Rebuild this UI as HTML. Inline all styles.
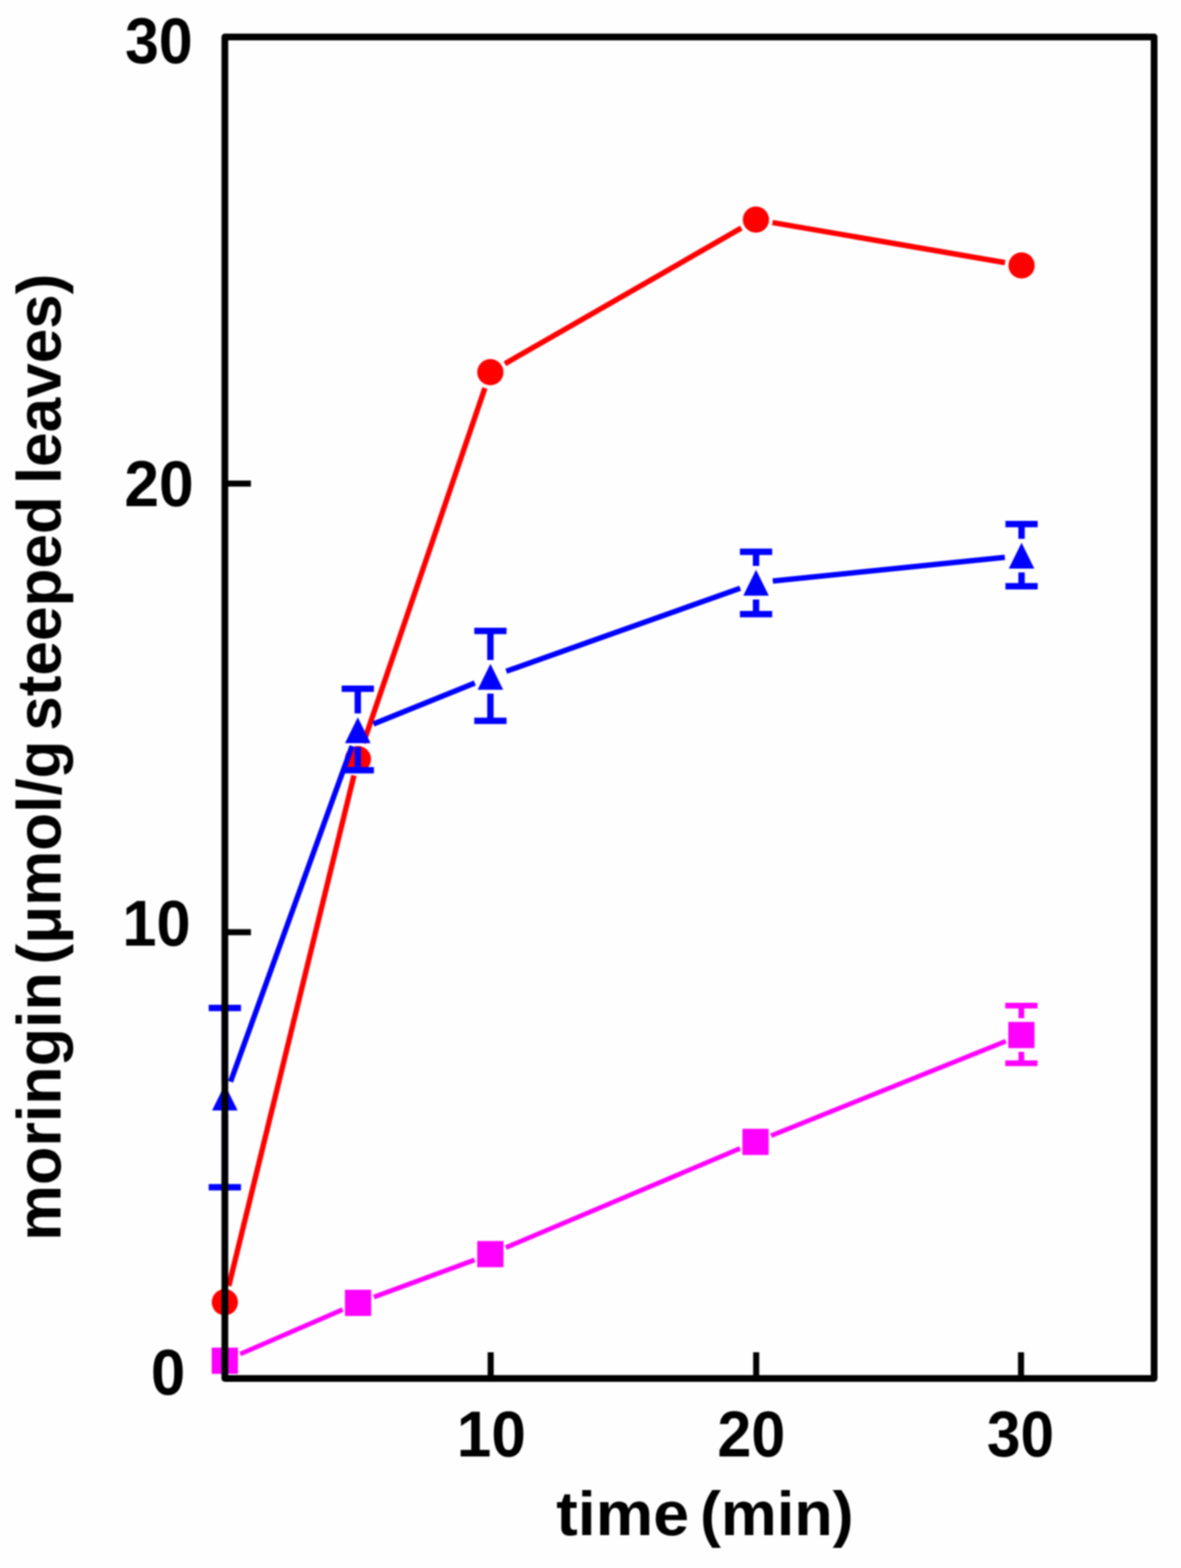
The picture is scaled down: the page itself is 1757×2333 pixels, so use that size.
<!DOCTYPE html><html><head><meta charset="utf-8"><title>moringin vs time</title><style>html,body{margin:0;padding:0;background:#fefefe;}svg{display:block;filter:blur(0.8px);}text{font-family:"Liberation Sans",Arial,Helvetica,sans-serif;font-weight:bold;fill:#000;}</style></head><body>
<svg width="1757" height="2333" viewBox="0 0 1757 2333">
<rect x="0" y="0" width="1757" height="2333" fill="#fefefe"/>
<g>
<line x1="340.4" y1="1913.3" x2="526.6" y2="1153.8" stroke="#ff0000" stroke-width="8" stroke-linecap="butt"/>
<line x1="540.6" y1="1105.8" x2="721.4" y2="577.4" stroke="#ff0000" stroke-width="8" stroke-linecap="butt"/>
<line x1="751.2" y1="541.2" x2="1102.9" y2="339.3" stroke="#ff0000" stroke-width="8" stroke-linecap="butt"/>
<line x1="1149.2" y1="331.1" x2="1495.2" y2="390.7" stroke="#ff0000" stroke-width="8" stroke-linecap="butt"/>
<circle cx="334.5" cy="1937.6" r="19.5" fill="#ff0000" />
<circle cx="532.5" cy="1129.5" r="19.5" fill="#ff0000" />
<circle cx="729.5" cy="553.7" r="19.5" fill="#ff0000" />
<circle cx="1124.6" cy="326.8" r="19.5" fill="#ff0000" />
<circle cx="1519.8" cy="395" r="19.5" fill="#ff0000" />
</g>
<g>
<line x1="343" y1="1609.5" x2="523.8" y2="1110" stroke="#0000ff" stroke-width="8" stroke-linecap="butt"/>
<line x1="555.5" y1="1077.2" x2="706.4" y2="1016.3" stroke="#0000ff" stroke-width="8" stroke-linecap="butt"/>
<line x1="753.2" y1="998.7" x2="1101.2" y2="875.3" stroke="#0000ff" stroke-width="8" stroke-linecap="butt"/>
<line x1="1149.7" y1="864.5" x2="1494.9" y2="829.2" stroke="#0000ff" stroke-width="8" stroke-linecap="butt"/>
<line x1="334.5" y1="1499.7" x2="334.5" y2="1608" stroke="#0000ff" stroke-width="9.5"/><line x1="334.5" y1="1658" x2="334.5" y2="1766.5" stroke="#0000ff" stroke-width="9.5"/><line x1="310.5" y1="1499.7" x2="358.5" y2="1499.7" stroke="#0000ff" stroke-width="9.5"/><line x1="310.5" y1="1766.5" x2="358.5" y2="1766.5" stroke="#0000ff" stroke-width="9.5"/>
<line x1="532.3" y1="1024.7" x2="532.3" y2="1061.5" stroke="#0000ff" stroke-width="9.5"/><line x1="532.3" y1="1111.5" x2="532.3" y2="1146" stroke="#0000ff" stroke-width="9.5"/><line x1="508.3" y1="1024.7" x2="556.3" y2="1024.7" stroke="#0000ff" stroke-width="9.5"/><line x1="508.3" y1="1146" x2="556.3" y2="1146" stroke="#0000ff" stroke-width="9.5"/>
<line x1="729.6" y1="938.7" x2="729.6" y2="982" stroke="#0000ff" stroke-width="9.5"/><line x1="729.6" y1="1032" x2="729.6" y2="1072.5" stroke="#0000ff" stroke-width="9.5"/><line x1="705.6" y1="938.7" x2="753.6" y2="938.7" stroke="#0000ff" stroke-width="9.5"/><line x1="705.6" y1="1072.5" x2="753.6" y2="1072.5" stroke="#0000ff" stroke-width="9.5"/>
<line x1="1124.8" y1="821" x2="1124.8" y2="842" stroke="#0000ff" stroke-width="9.5"/><line x1="1124.8" y1="892" x2="1124.8" y2="913.7" stroke="#0000ff" stroke-width="9.5"/><line x1="1100.8" y1="821" x2="1148.8" y2="821" stroke="#0000ff" stroke-width="9.5"/><line x1="1100.8" y1="913.7" x2="1148.8" y2="913.7" stroke="#0000ff" stroke-width="9.5"/>
<line x1="1519.8" y1="779.8" x2="1519.8" y2="801.7" stroke="#0000ff" stroke-width="9.5"/><line x1="1519.8" y1="851.7" x2="1519.8" y2="872.2" stroke="#0000ff" stroke-width="9.5"/><line x1="1495.8" y1="779.8" x2="1543.8" y2="779.8" stroke="#0000ff" stroke-width="9.5"/><line x1="1495.8" y1="872.2" x2="1543.8" y2="872.2" stroke="#0000ff" stroke-width="9.5"/>
<polygon points="334.5,1613.8 353.5,1652.2 315.5,1652.2" fill="#0000ff" />
<polygon points="532.3,1067.2 551.3,1105.8 513.3,1105.8" fill="#0000ff" />
<polygon points="729.6,987.8 748.6,1026.2 710.6,1026.2" fill="#0000ff" />
<polygon points="1124.8,847.8 1143.8,886.2 1105.8,886.2" fill="#0000ff" />
<polygon points="1519.8,807.5 1538.8,846 1500.8,846" fill="#0000ff" />
</g>
<g>
<line x1="357.4" y1="2014.6" x2="509.8" y2="1948.5" stroke="#ff00ff" stroke-width="7" stroke-linecap="butt"/>
<line x1="556.2" y1="1929.9" x2="706" y2="1874.6" stroke="#ff00ff" stroke-width="7" stroke-linecap="butt"/>
<line x1="752.5" y1="1856.3" x2="1101" y2="1708.7" stroke="#ff00ff" stroke-width="7" stroke-linecap="butt"/>
<line x1="1147.2" y1="1689.7" x2="1496.3" y2="1549.3" stroke="#ff00ff" stroke-width="7" stroke-linecap="butt"/>
<line x1="1519.5" y1="1496.3" x2="1519.5" y2="1515" stroke="#ff00ff" stroke-width="8.5"/><line x1="1519.5" y1="1565" x2="1519.5" y2="1582" stroke="#ff00ff" stroke-width="8.5"/><line x1="1495.5" y1="1496.3" x2="1543.5" y2="1496.3" stroke="#ff00ff" stroke-width="8.5"/><line x1="1495.5" y1="1582" x2="1543.5" y2="1582" stroke="#ff00ff" stroke-width="8.5"/>
<rect x="315" y="2005.1" width="39" height="39" fill="#ff00ff" />
<rect x="513.2" y="1919" width="39" height="39" fill="#ff00ff" />
<rect x="710" y="1846.5" width="39" height="39" fill="#ff00ff" />
<rect x="1104.5" y="1679.5" width="39" height="39" fill="#ff00ff" />
<rect x="1500" y="1520.5" width="39" height="39" fill="#ff00ff" />
</g>
<rect x="334.5" y="55" width="1382.5" height="1996" fill="none" stroke="#000" stroke-width="10" stroke-linejoin="round"/>
<line x1="334.5" y1="719.5" x2="373.3" y2="719.5" stroke="#000" stroke-width="9"/>
<line x1="334.5" y1="1387" x2="373.3" y2="1387" stroke="#000" stroke-width="9"/>
<line x1="730" y1="2051" x2="730" y2="2012" stroke="#000" stroke-width="9"/>
<line x1="1125" y1="2051" x2="1125" y2="2012" stroke="#000" stroke-width="9"/>
<line x1="1519" y1="2051" x2="1519" y2="2012" stroke="#000" stroke-width="9"/>
<text x="186.0" y="94.35" font-size="97" textLength="100.71" lengthAdjust="spacingAndGlyphs">30</text>
<text x="185.0" y="752.6" font-size="97" textLength="103.26" lengthAdjust="spacingAndGlyphs">20</text>
<text x="182.0" y="1407.1" font-size="97" textLength="101.64" lengthAdjust="spacingAndGlyphs">10</text>
<text x="224.5" y="2074.95" font-size="97" textLength="51.16" lengthAdjust="spacingAndGlyphs">0</text>
<text x="679.5" y="2167.15" font-size="97" textLength="102.86" lengthAdjust="spacingAndGlyphs">10</text>
<text x="1067.3" y="2167.3" font-size="97" textLength="101.05" lengthAdjust="spacingAndGlyphs">20</text>
<text x="1468.3" y="2167.3" font-size="97" textLength="99.92" lengthAdjust="spacingAndGlyphs">30</text>
<text x="827.6" y="2284.3" font-size="93" textLength="197.7" lengthAdjust="spacingAndGlyphs">time</text>
<text x="1041.5" y="2284.3" font-size="93" textLength="228.35" lengthAdjust="spacingAndGlyphs">(min)</text>
<text transform="translate(90,1846.3) rotate(-90)" x="0" y="0" font-size="93.5" textLength="399.94" lengthAdjust="spacingAndGlyphs">moringin</text>
<text transform="translate(90,1435) rotate(-90)" x="0" y="0" font-size="93.5" textLength="333.15" lengthAdjust="spacingAndGlyphs">(μmol/g</text>
<text transform="translate(90,1087.3) rotate(-90)" x="0" y="0" font-size="93.5" textLength="349.07" lengthAdjust="spacingAndGlyphs">steeped</text>
<text transform="translate(90,720.3) rotate(-90)" x="0" y="0" font-size="93.5" textLength="313.17" lengthAdjust="spacingAndGlyphs">leaves)</text>
</svg></body></html>
